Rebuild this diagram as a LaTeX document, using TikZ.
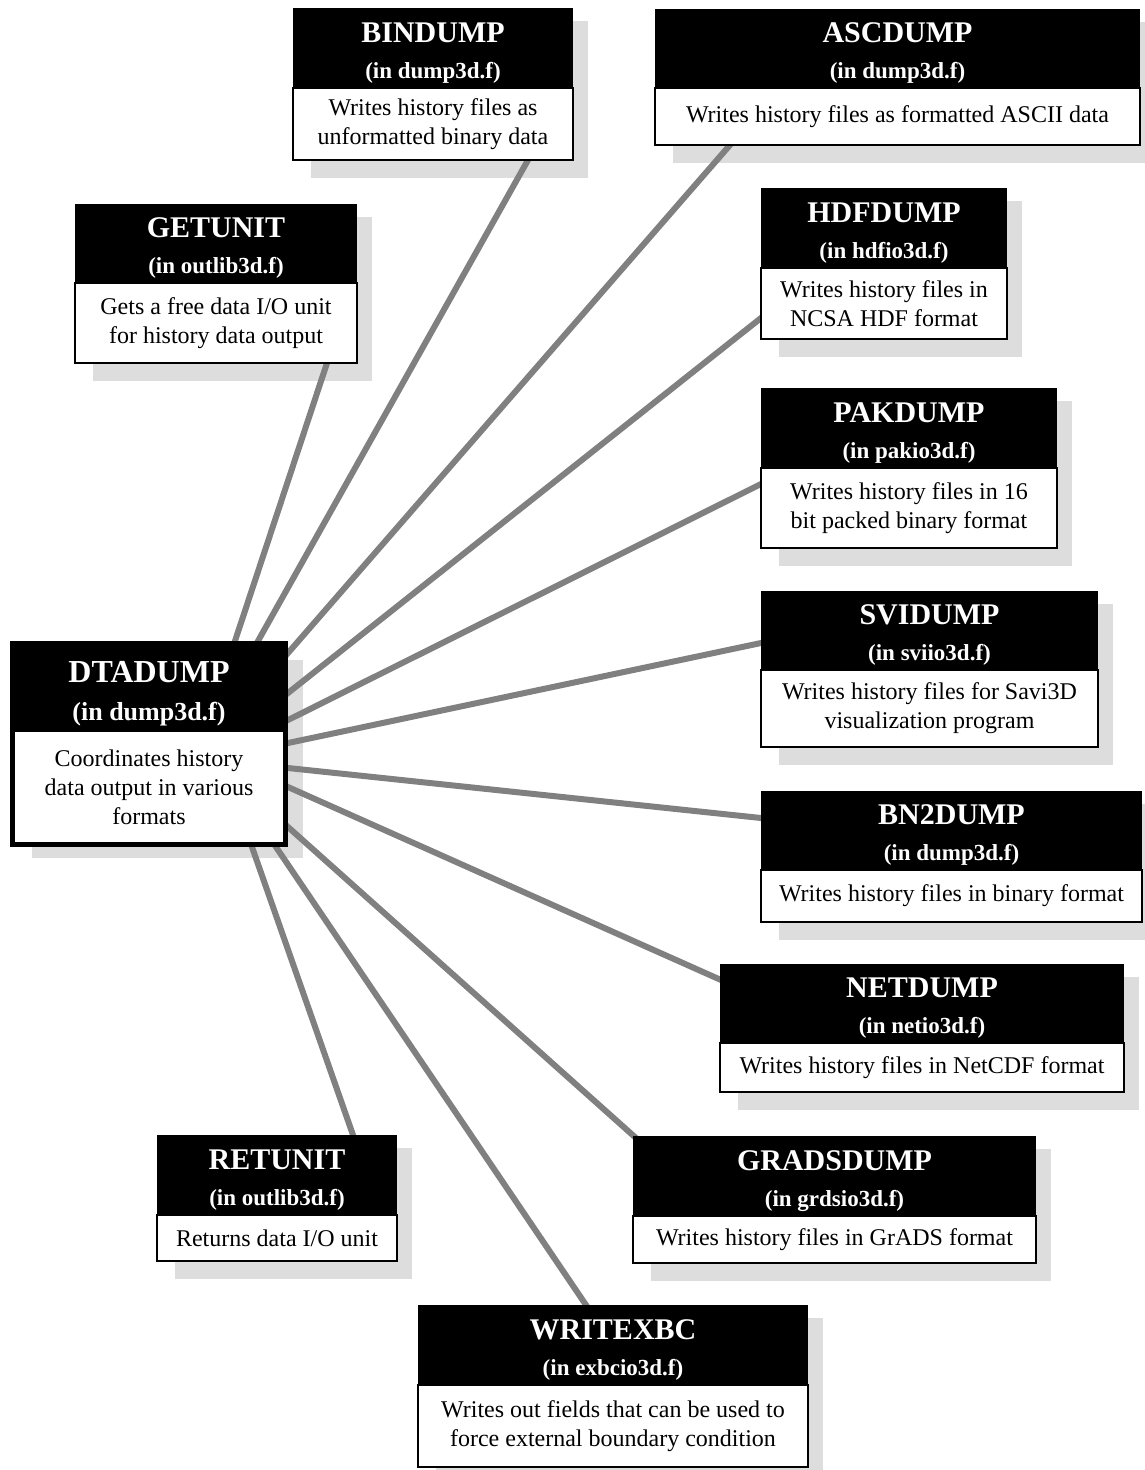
\documentclass[tikz,border=0pt]{standalone}
\usepackage{fontspec}
\setmainfont{Liberation Serif}
\pgfdeclarelayer{shadows}
\pgfdeclarelayer{links}
\pgfsetlayers{shadows,links,main}
\definecolor{dropshade}{RGB}{221,221,221}
\definecolor{linkgray}{RGB}{128,128,128}

\tikzset{
  headbox/.style={fill=black, inner sep=0pt},
  headtext/.style={inner sep=0pt, text=white, align=center,
    font=\bfseries\fontsize{23}{36}\selectfont},
  bodybox/.style={fill=white, draw=black, line width=1.4pt, inner sep=0pt,
    align=center, font=\fontsize{24}{29}\selectfont},
  link/.style={draw=linkgray, line width=6pt, shorten <=-10pt, shorten >=-10pt},
  dropshadow/.style={fill=dropshade},
  % a node covering the rectangle (x1,y1)-(x2,y2), given in picture units
  span/.style n args={4}{minimum width={(#3-#1)*1pt}, minimum height={(#4-#2)*1pt},
    at={({(#1+#3)/2},{(#2+#4)/2})}, anchor=center}
}
\newcommand\titlesize{\fontsize{30}{36}\selectfont}

% routine box: name, left, top, right, header bottom, bottom, title, file, description
\newcommand\routine[9]{%
  \begin{pgfonlayer}{shadows}
    \fill[dropshadow] ({#2+18},{#3+13}) rectangle ({min(#4+15,1145)},{min(#6+18,1470)});
  \end{pgfonlayer}
  \node[headbox, span={#2}{#3}{#4}{#5}] (#1-h) {};
  \node[headtext] (#1-t) at ([yshift=-5pt]#1-h.center) {{\titlesize #7}\\#8};
  \node[bodybox, span={#2}{#5}{#4}{#6}] (#1-b) {#9};
}

\begin{document}
\begin{tikzpicture}[x=1pt,y=-1pt]
\useasboundingbox (0,0) rectangle (1145,1470);

% central routine
\begin{pgfonlayer}{shadows}
  \fill[dropshadow] (32,660) rectangle (303,858);
\end{pgfonlayer}
\node[headbox, span={10}{641}{288}{731}] (dta-h) {};
\node[headtext, font=\bfseries\fontsize{26}{38}\selectfont] (dta-t) at ([yshift=-8pt]dta-h.center)
  {{\fontsize{32}{38}\selectfont DTADUMP}\\(in dump3d.f)};
\node[bodybox, line width=5pt, span={12.5}{729.5}{285.5}{844.5}] (dta-b)
  {Coordinates history\\data output in various\\formats};

% called routines
\routine{getunit}{75}{204}{357}{283}{363}{GETUNIT}{(in outlib3d.f)}{Gets a free data I/O unit\\for history data output}
\routine{bindump}{293}{8}{573}{88}{160}{BINDUMP}{(in dump3d.f)}{Writes history files as\\unformatted binary data}
\routine{ascdump}{655}{9}{1140}{88}{145}{ASCDUMP}{(in dump3d.f)}{Writes history files as formatted ASCII data}
\routine{hdfdump}{761}{188}{1007}{268}{339}{HDFDUMP}{(in hdfio3d.f)}{Writes history files in\\NCSA HDF format}
\routine{pakdump}{761}{388}{1057}{468}{548}{PAKDUMP}{(in pakio3d.f)}{Writes history files in 16\\bit packed binary format}
\routine{svidump}{761}{591}{1098}{670}{747}{SVIDUMP}{(in sviio3d.f)}{Writes history files for Savi3D\\visualization program}
\routine{bn2dump}{761}{791}{1142}{870}{922}{BN2DUMP}{(in dump3d.f)}{Writes history files in binary format}
\routine{netdump}{720}{964}{1124}{1043}{1092}{NETDUMP}{(in netio3d.f)}{Writes history files in NetCDF format}
\routine{gradsdump}{633}{1136}{1036}{1216}{1263}{GRADSDUMP}{(in grdsio3d.f)}{Writes history files in GrADS format}
\routine{retunit}{157}{1135}{397}{1215}{1261}{RETUNIT}{(in outlib3d.f)}{Returns data I/O unit}
\routine{writexbc}{418}{1305}{808}{1385}{1467}{WRITEXBC}{(in exbcio3d.f)}{Writes out fields that can be used to\\force external boundary condition}

% connector end points
\coordinate (dta-getunit)   at (235,641);
\coordinate (dta-bindump)   at (258,641);
\coordinate (dta-ascdump)   at (288,653);
\coordinate (dta-hdfdump)   at (288,693);
\coordinate (dta-pakdump)   at (288,720);
\coordinate (dta-svidump)   at (288,743);
\coordinate (dta-bn2dump)   at (288,768);
\coordinate (dta-netdump)   at (288,787);
\coordinate (dta-gradsdump) at (288,827);
\coordinate (dta-writexbc)  at (276,847);
\coordinate (dta-retunit)   at (252,847);

\coordinate (getunit-in)   at (327,363);
\coordinate (bindump-in)   at (528,160);
\coordinate (ascdump-in)   at (730,145);
\coordinate (hdfdump-in)   at (761,318);
\coordinate (pakdump-in)   at (761,484);
\coordinate (svidump-in)   at (761,643);
\coordinate (bn2dump-in)   at (761,818);
\coordinate (netdump-in)   at (721,980);
\coordinate (gradsdump-in) at (636,1138);
\coordinate (writexbc-in)  at (586,1305);
\coordinate (retunit-in)   at (353,1135);

\begin{pgfonlayer}{links}
  \foreach \r in {getunit,bindump,ascdump,hdfdump,pakdump,svidump,bn2dump,netdump,gradsdump,writexbc,retunit}
    \draw[link] (dta-\r) -- (\r-in);
\end{pgfonlayer}
\end{tikzpicture}
\end{document}
